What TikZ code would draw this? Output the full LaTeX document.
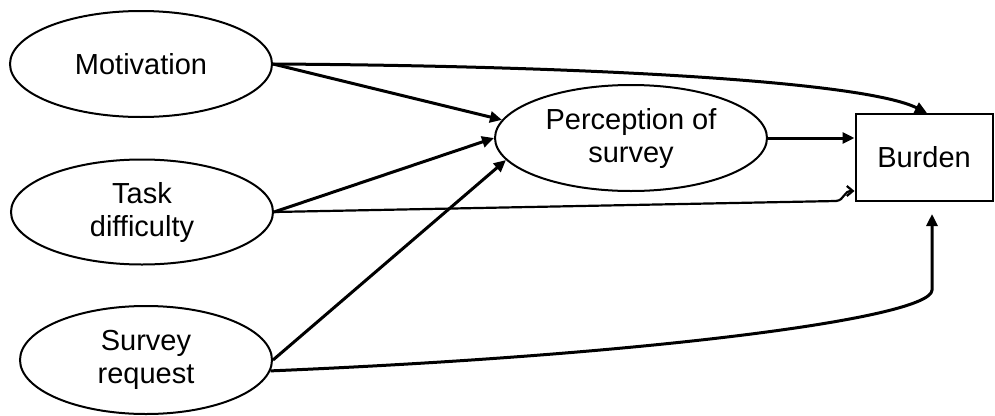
\documentclass[tikz,border=0pt]{standalone}
\usepackage{fontspec}
\setmainfont{Liberation Sans}
\usetikzlibrary{shapes.geometric,arrows.meta}

\tikzset{
  factor/.style={ellipse, draw, line width=2pt, inner sep=0pt, align=center,
    font=\fontsize{29}{33}\selectfont},
  outcome/.style={rectangle, draw, line width=2pt, inner sep=0pt, align=center,
    font=\fontsize{29}{33}\selectfont},
  path/.style={line width=3pt, -{Triangle[length=12pt,width=11pt]}},
  thinpath/.style={line width=2.2pt, -{Straight Barb[length=6pt,width=10pt]}}
}

\begin{document}
\begin{tikzpicture}[x=1pt,y=-1pt]
\useasboundingbox (0,0) rectangle (995,415);

% latent factors
\node[factor, minimum width=262pt, minimum height=106pt] (mot) at (141,64) {Motivation};
\node[factor, minimum width=262pt, minimum height=105pt] (task) at (142,212) {Task\\difficulty};
\node[factor, minimum width=252pt, minimum height=108pt] (req) at (146,360) {Survey\\request};
\node[factor, minimum width=272pt, minimum height=106pt] (perc) at (631,138) {Perception of\\survey};

% outcome box
\node[outcome, minimum width=137pt, minimum height=87pt] (burden) at (924,157.5) {Burden};

% free ends below and on the left of the outcome box
\coordinate (bTop) at ([xshift=3pt]burden.north);
\coordinate (bLow) at ([yshift=11pt]burden.south west);
\coordinate (bUnder) at ([xshift=8pt,yshift=-12pt]burden.south);

% paths into the perception factor
\draw[path] (mot.east) -- (perc.172);
\draw[path] (task.east) -- (perc.180);
\draw[path] (req.east) -- (perc.190);

% perception to burden
\draw[path] (perc.east) -- (perc.east -| burden.west);

% direct paths to burden
\draw[path] (mot.east) .. controls (600,66) and (865,82) .. (bTop);
\draw[thinpath] (task.east) -- (836,201) .. controls (845,200) and (843,191) .. (bLow);
\draw[path] (req.-5) .. controls (650,355) and (932,318) .. (bUnder |- 0,290) -- (bUnder);

\end{tikzpicture}
\end{document}
